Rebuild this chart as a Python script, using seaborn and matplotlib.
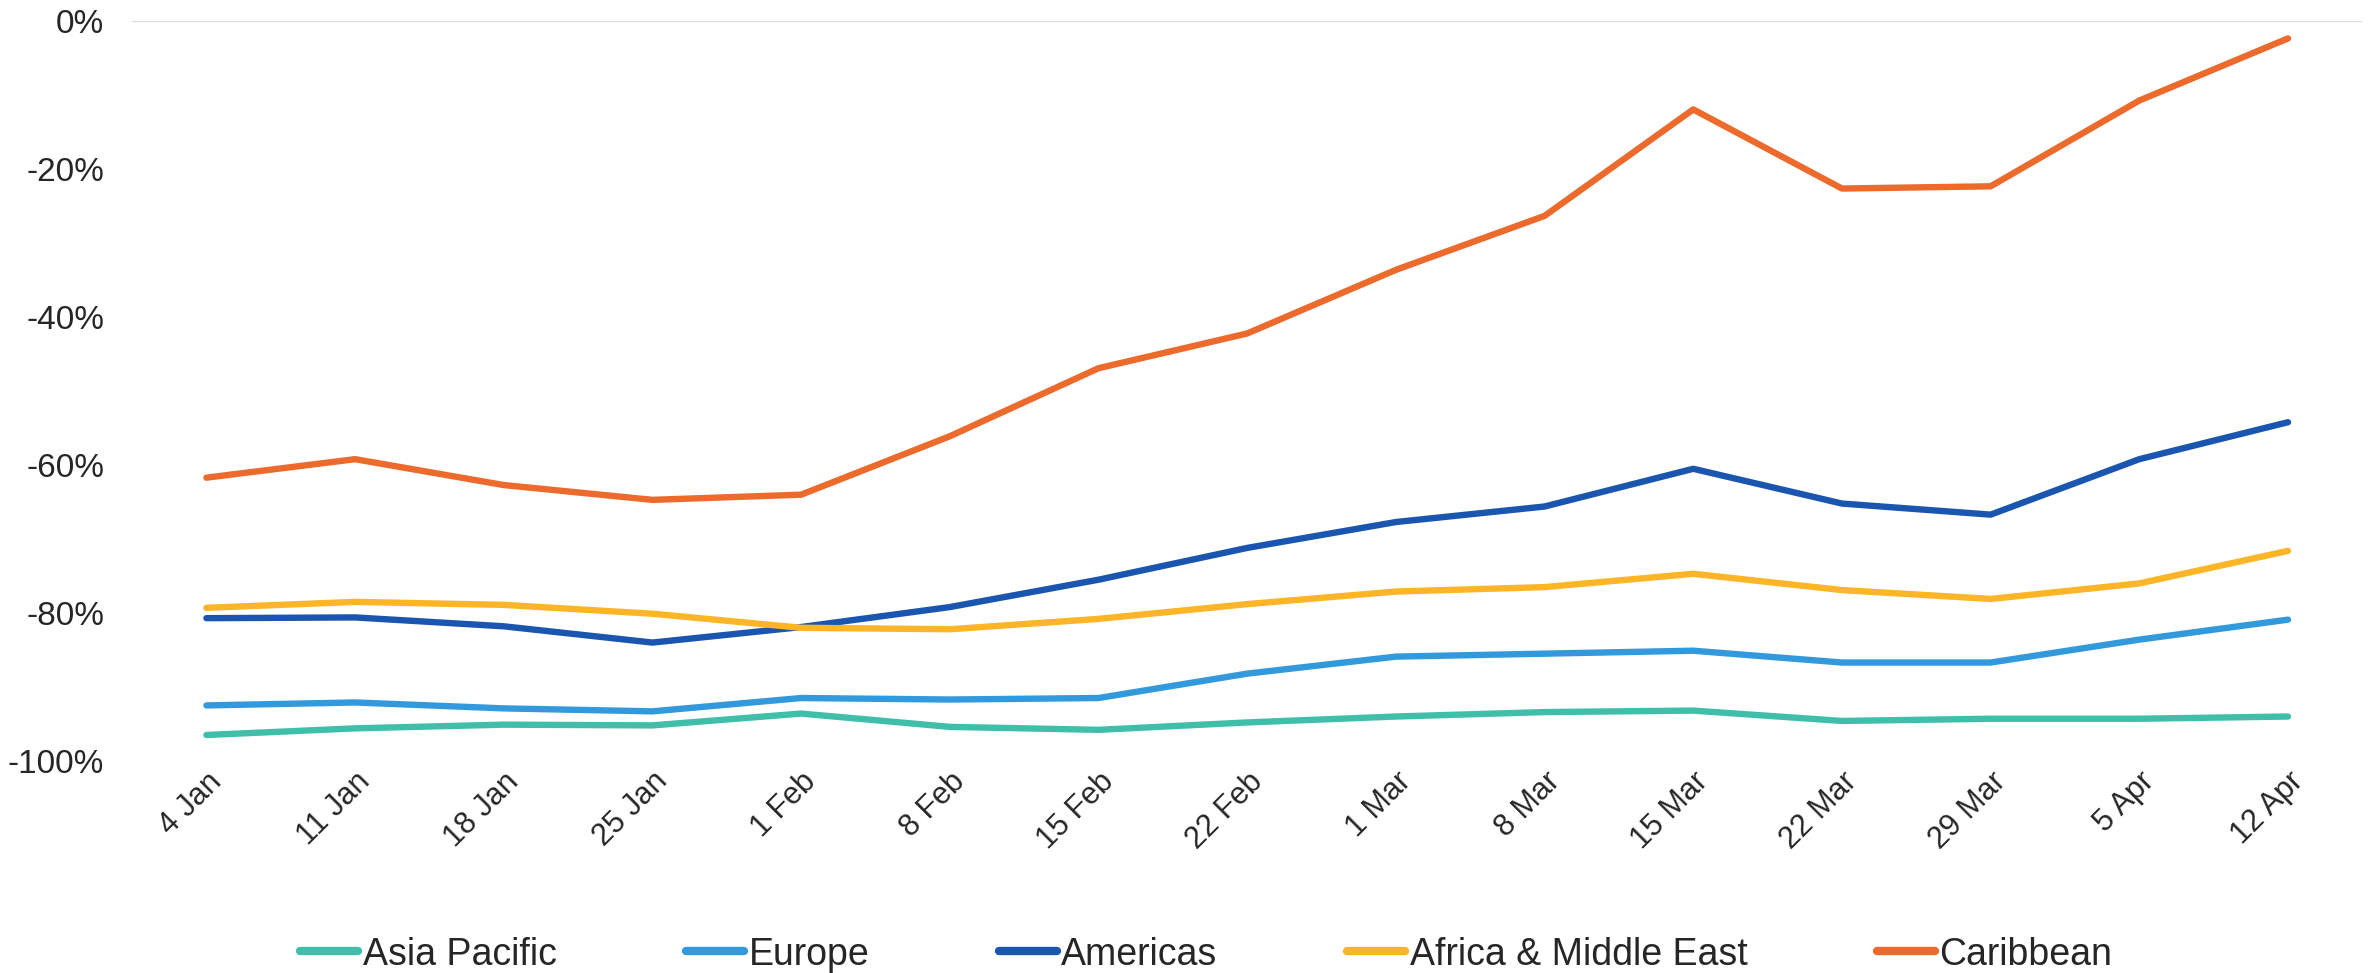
"""
Weekly change by region, Jan-Apr (line chart)
"""
import pandas as pd
import matplotlib.pyplot as plt
import seaborn as sns
from matplotlib.ticker import FuncFormatter

weeks = ['4 Jan', '11 Jan', '18 Jan', '25 Jan', '1 Feb', '8 Feb', '15 Feb', '22 Feb',
         '1 Mar', '8 Mar', '15 Mar', '22 Mar', '29 Mar', '5 Apr', '12 Apr']

asia_pacific = [-96.5, -95.6, -95.1, -95.2, -93.6, -95.4, -95.8, -94.8,
                -94.0, -93.4, -93.2, -94.6, -94.3, -94.3, -94.0]
europe = [-92.5, -92.1, -92.9, -93.3, -91.5, -91.7, -91.5, -88.2,
          -85.9, -85.5, -85.1, -86.7, -86.7, -83.6, -80.9]
americas = [-80.7, -80.6, -81.8, -84.0, -81.9, -79.2, -75.5, -71.2,
            -67.7, -65.6, -60.5, -65.2, -66.7, -59.2, -54.2]
africa_me = [-79.3, -78.5, -78.9, -80.1, -82.0, -82.2, -80.8, -78.8,
             -77.1, -76.5, -74.7, -76.9, -78.1, -76.0, -71.6]
caribbean = [-61.7, -59.2, -62.7, -64.7, -64.0, -56.1, -46.9, -42.2,
             -33.6, -26.3, -11.9, -22.6, -22.3, -10.7, -2.3]

regions = ['Asia Pacific', 'Europe', 'Americas', 'Africa & Middle East', 'Caribbean']
colors = ['#3FBFAA', '#3399DD', '#1A56B0', '#FBB526', '#EC6A2C']

series = [asia_pacific, europe, americas, africa_me, caribbean]
df = pd.concat([pd.DataFrame({'week': weeks, 'value': vals, 'region': name})
                for name, vals in zip(regions, series)], ignore_index=True)

sns.set_style("white")
plt.rcParams['font.family'] = ['Liberation Sans', 'DejaVu Sans']

fig = plt.figure(figsize=(23.79, 9.73), dpi=100)
ax = fig.add_axes([0.0555, 0.218, 0.9375, 0.760])

sns.lineplot(data=df, x='week', y='value', hue='region', hue_order=regions,
             palette=colors, linewidth=4.6, sort=False, ax=ax, legend=False)
for line in ax.lines:
    line.set_solid_capstyle('round')

ax.axhline(0, color='#D9D9D9', linewidth=1.6, zorder=0)
ax.set_xlim(-0.5, len(weeks) - 0.5)
ax.set_ylim(-100, 0)
ax.set_yticks(range(-100, 1, 20))
ax.yaxis.set_major_formatter(FuncFormatter(lambda v, p: f'{int(v)}%'))
ax.tick_params(axis='y', labelsize=24, length=0, pad=20)
ax.tick_params(axis='x', labelsize=22, length=0, pad=4)
ax.set_xticks(range(len(weeks)))
ax.set_xticklabels(weeks, rotation=45, ha='right', rotation_mode='anchor')
ax.set_xlabel('')
ax.set_ylabel('')
for s in ax.spines.values():
    s.set_visible(False)

handles = [plt.Line2D([], [], color=c, linewidth=6, solid_capstyle='round') for c in colors]
fig.legend(handles, regions, loc='center', bbox_to_anchor=(0.507, 0.019), ncol=5,
           frameon=False, fontsize=27, handlelength=1.55, handletextpad=0.12,
           columnspacing=3.45)

plt.savefig('out.png', dpi=100)
